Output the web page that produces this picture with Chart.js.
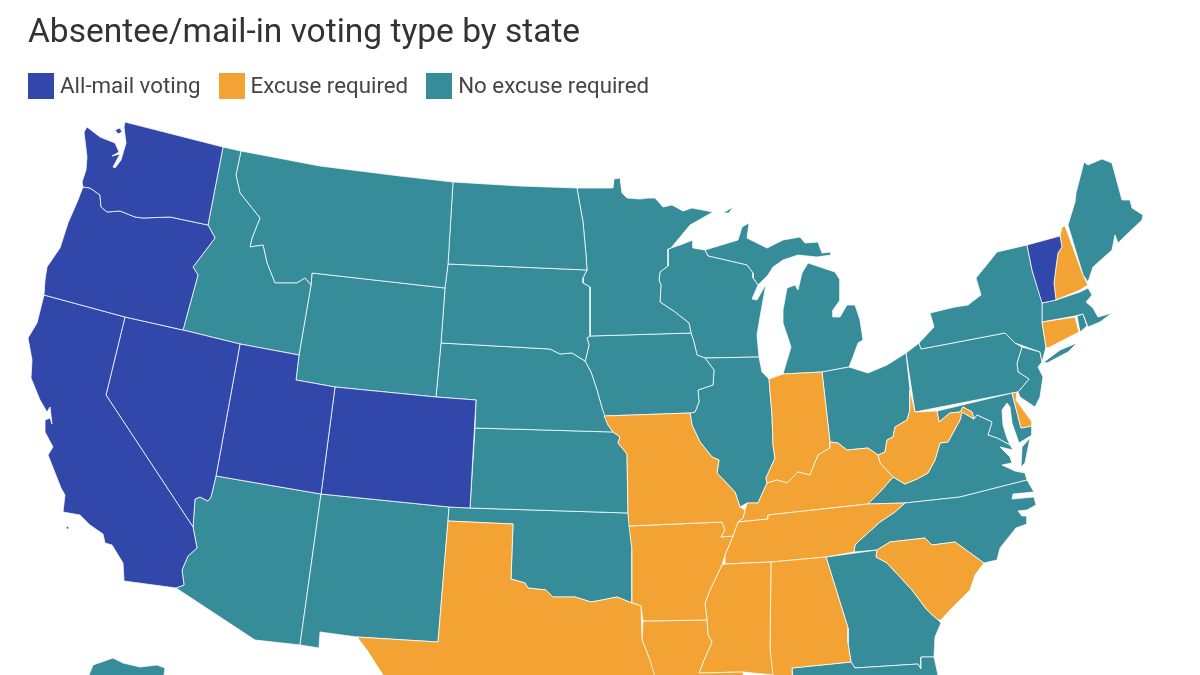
<!DOCTYPE html>
<html lang="en">

<head>
    <meta charset="UTF-8">
    <title>Absentee/mail-in voting type by state</title>
    <script src="https://cdn.jsdelivr.net/npm/chart.js@4"></script>
    <style>
        html,
        body {
            margin: 0;
            width: 1200px;
            height: 675px;
            background: #fff;
            overflow: hidden;
            font-family: Roboto, sans-serif;
        }

        #wrap {
            position: relative;
            width: 1200px;
            height: 675px;
        }

        #legend {
            position: absolute;
            left: 28px;
            top: 73px;
            display: flex;
            color: #444;
            font-size: 22.3px;
            line-height: 25px;
        }

        #legend span.item {
            display: flex;
            margin-right: 18px;
        }

        #legend i {
            width: 26px;
            height: 26px;
            margin-right: 6px;
        }
    </style>
</head>

<body>
    <div id="wrap">
        <canvas id="canvas" width="1200" height="675"></canvas>
        <div id="legend"></div>
    </div>

    <script>
        // outlines are in map units, y runs downward
        const Washington = [[125, 122], [223, 147], [208, 225], [170, 217], [143, 218], [135, 217], [120, 211], [107, 212], [101, 207], [100, 195], [90, 188], [83, 187], [82, 182], [86, 170], [87, 157], [84, 132], [87, 127], [100, 137], [115, 143], [119, 152], [112, 156], [120, 154], [113, 167], [115, 168], [121, 160], [126, 143], [124, 127]];
        const SanJuanIslands = [[115, 130], [120, 128], [122, 132], [118, 134]];
        const Oregon = [[83, 187], [90, 188], [100, 195], [101, 207], [107, 212], [120, 211], [135, 217], [143, 218], [170, 217], [208, 225], [215, 238], [193, 267], [198, 275], [183, 330], [125, 317], [44, 295], [45, 280], [47, 267], [60, 248], [68, 223], [78, 200]];
        const California = [[44, 295], [125, 317], [106, 395], [193, 527], [197, 548], [188, 556], [182, 570], [184, 585], [176, 588], [124, 581], [123, 563], [112, 545], [105, 543], [103, 534], [90, 525], [80, 515], [63, 512], [65, 495], [61, 488], [48, 455], [53, 447], [45, 432], [45, 420], [50, 418], [52, 424], [50, 407], [47, 412], [40, 400], [31, 378], [32, 360], [28, 338], [37, 323]];
        const SantaCatalina = [[66, 527], [69, 526], [69, 529], [67, 529]];
        const Nevada = [[125, 317], [183, 330], [240, 344], [216, 476], [211, 497], [208, 501], [200, 497], [195, 499], [193, 527], [106, 395]];
        const Utah = [[240, 344], [299, 355], [296, 380], [335, 387], [321, 494], [216, 476]];
        const Colorado = [[335, 387], [436, 397], [476, 400], [470, 508], [449, 507], [321, 494]];
        const Idaho = [[223, 147], [241, 151], [236, 175], [240, 193], [260, 218], [252, 238], [250, 247], [263, 245], [267, 263], [275, 283], [297, 283], [305, 278], [311, 285], [299, 355], [240, 344], [183, 330], [198, 275], [193, 267], [215, 238], [208, 225]];
        const Montana = [[241, 151], [320, 166], [400, 176], [453, 182], [448, 264], [445, 288], [312, 273], [311, 285], [305, 278], [297, 283], [275, 283], [267, 263], [263, 245], [250, 247], [252, 238], [260, 218], [240, 193], [236, 175]];
        const Wyoming = [[312, 273], [445, 288], [441, 343], [436, 397], [335, 387], [296, 380], [299, 355], [311, 285]];
        const NorthDakota = [[453, 182], [520, 186], [577, 188], [579, 200], [583, 222], [586, 255], [587, 270], [448, 264]];
        const SouthDakota = [[448, 264], [587, 270], [583, 278], [583, 283], [590, 287], [590, 336], [587, 338], [589, 345], [586, 358], [585, 361], [572, 353], [560, 354], [550, 349], [441, 343], [445, 288]];
        const Nebraska = [[441, 343], [550, 349], [560, 354], [572, 353], [585, 361], [591, 372], [597, 390], [602, 408], [608, 425], [613, 432], [475, 428], [476, 400], [436, 397]];
        const Kansas = [[475, 428], [613, 432], [620, 437], [618, 443], [627, 454], [628, 513], [470, 508]];
        const Oklahoma = [[449, 507], [470, 508], [628, 513], [630, 527], [632, 550], [632, 603], [617, 597], [602, 600], [591, 602], [575, 597], [560, 597], [553, 597], [546, 590], [528, 588], [525, 583], [511, 579], [513, 524], [448, 521]];
        const Texas = [[448, 521], [513, 524], [511, 579], [525, 583], [528, 588], [546, 590], [553, 597], [560, 597], [575, 597], [591, 602], [602, 600], [617, 597], [632, 603], [641, 606], [642, 640], [650, 660], [656, 680], [660, 720], [400, 720], [383, 675], [367, 650], [357, 637], [438, 642]];
        const NewMexico = [[321, 494], [449, 507], [448, 521], [438, 642], [357, 637], [320, 632], [319, 648], [300, 645]];
        const Arizona = [[216, 476], [321, 494], [300, 645], [255, 640], [176, 588], [184, 585], [182, 570], [188, 556], [197, 548], [193, 527], [195, 499], [200, 497], [208, 501], [211, 497]];
        const Alaska = [[89, 675], [93, 665], [113, 658], [123, 663], [140, 667], [157, 665], [165, 668], [164, 675], [164, 700], [89, 700]];
        const Minnesota = [[577, 188], [613, 188], [614, 179], [620, 178], [622, 193], [627, 198], [640, 199], [648, 198], [655, 198], [663, 207], [672, 205], [683, 211], [692, 208], [713, 212], [690, 225], [671, 248], [668, 249], [668, 266], [660, 272], [659, 280], [661, 285], [660, 302], [675, 312], [689, 323], [691, 333], [590, 336], [590, 287], [583, 283], [583, 278], [587, 270], [586, 255], [583, 222], [579, 200]];
        const Iowa = [[587, 338], [590, 336], [691, 333], [694, 342], [697, 355], [705, 358], [714, 370], [713, 385], [698, 390], [699, 402], [695, 412], [690, 413], [604, 416], [602, 408], [597, 390], [591, 372], [585, 361], [586, 358], [589, 345]];
        const Missouri = [[604, 416], [690, 413], [692, 425], [700, 442], [712, 457], [719, 460], [717, 473], [735, 492], [740, 507], [745, 510], [743, 518], [738, 522], [733, 536], [721, 537], [725, 530], [722, 522], [629, 526], [628, 513], [627, 454], [618, 443], [620, 437], [613, 432], [608, 425]];
        const Arkansas = [[629, 526], [722, 522], [725, 530], [721, 537], [733, 536], [725, 555], [722, 565], [710, 590], [705, 603], [707, 620], [643, 621], [641, 606], [632, 603], [632, 550]];
        const Louisiana = [[643, 621], [707, 620], [708, 635], [712, 642], [704, 660], [699, 673], [743, 672], [745, 700], [656, 700], [650, 660], [642, 640]];
        const Mississippi = [[725, 564], [771, 562], [770, 648], [773, 675], [743, 672], [699, 673], [704, 660], [712, 642], [708, 635], [707, 620], [705, 603], [710, 590], [722, 565]];
        const Alabama = [[771, 562], [826, 557], [848, 628], [848, 643], [851, 662], [792, 668], [793, 700], [773, 700], [770, 648]];
        const Florida = [[792, 668], [851, 662], [855, 668], [918, 664], [921, 669], [921, 657], [934, 657], [938, 675], [945, 700], [795, 700]];
        const Georgia = [[826, 557], [877, 550], [876, 557], [887, 563], [912, 590], [927, 610], [938, 620], [941, 623], [935, 637], [934, 657], [921, 657], [921, 669], [918, 664], [855, 668], [851, 662], [848, 643], [848, 628]];
        const SouthCarolina = [[877, 550], [890, 542], [925, 538], [932, 545], [955, 542], [984, 563], [975, 575], [970, 590], [950, 610], [941, 620], [938, 620], [927, 610], [912, 590], [887, 563], [876, 557]];
        const NorthCarolina = [[854, 552], [855, 545], [860, 540], [880, 522], [895, 512], [905, 503], [960, 497], [1027, 480], [1034, 492], [1013, 494], [1012, 499], [1034, 497], [1036, 505], [1027, 510], [1018, 511], [1022, 516], [1027, 516], [1027, 524], [1016, 528], [1000, 548], [997, 560], [984, 563], [955, 542], [932, 545], [925, 538], [890, 542], [877, 550]];
        const Tennessee = [[738, 522], [768, 519], [768, 515], [868, 504], [905, 503], [895, 512], [880, 522], [860, 540], [855, 545], [854, 552], [826, 557], [771, 562], [725, 564], [725, 555], [733, 536]];
        const Kentucky = [[745, 510], [747, 503], [758, 503], [767, 483], [777, 480], [787, 483], [798, 472], [810, 475], [818, 455], [830, 448], [830, 442], [838, 443], [847, 450], [868, 448], [878, 455], [880, 463], [893, 477], [880, 492], [868, 504], [768, 515], [768, 519], [738, 522], [743, 518]];
        const Virginia = [[868, 504], [880, 492], [893, 477], [905, 484], [917, 479], [928, 473], [935, 460], [940, 443], [948, 442], [960, 420], [962, 412], [974, 419], [977, 415], [992, 422], [988, 435], [997, 438], [1010, 445], [1013, 450], [1000, 447], [1010, 457], [1012, 463], [1002, 465], [1015, 471], [1025, 473], [1027, 480], [960, 497], [905, 503]];
        const VirginiaShore = [[1030, 438], [1025, 463], [1021, 467], [1022, 447]];
        const WestVirginia = [[910, 390], [915, 412], [937, 411], [939, 422], [950, 413], [960, 412], [963, 407], [972, 412], [974, 419], [962, 412], [960, 420], [948, 442], [940, 443], [935, 460], [928, 473], [917, 479], [905, 484], [893, 477], [880, 463], [878, 455], [885, 452], [887, 440], [893, 437], [895, 427], [907, 420], [910, 410]];
        const Ohio = [[822, 372], [849, 367], [868, 373], [887, 365], [906, 353], [910, 390], [910, 410], [907, 420], [895, 427], [893, 437], [887, 440], [885, 452], [878, 455], [868, 448], [847, 450], [838, 443], [830, 442]];
        const Indiana = [[769, 379], [783, 374], [822, 372], [830, 442], [830, 448], [818, 455], [810, 475], [798, 472], [787, 483], [777, 480], [767, 483], [766, 478], [775, 458], [773, 445], [772, 415]];
        const Illinois = [[705, 358], [759, 357], [762, 372], [769, 379], [772, 415], [773, 445], [775, 458], [766, 478], [767, 483], [758, 503], [747, 503], [740, 507], [735, 492], [717, 473], [719, 460], [712, 457], [700, 442], [692, 425], [690, 413], [695, 412], [699, 402], [698, 390], [713, 385], [714, 370]];
        const Wisconsin = [[668, 249], [680, 245], [693, 240], [693, 248], [705, 250], [708, 256], [747, 265], [753, 273], [753, 278], [758, 285], [752, 299], [757, 300], [766, 284], [760, 317], [757, 335], [759, 357], [705, 358], [697, 355], [694, 342], [691, 333], [689, 323], [675, 312], [660, 302], [661, 285], [659, 280], [660, 272], [668, 266]];
        const MichiganUpper = [[705, 250], [738, 240], [742, 227], [749, 223], [747, 238], [767, 248], [783, 240], [800, 237], [805, 243], [818, 242], [822, 253], [831, 252], [831, 255], [817, 257], [798, 255], [783, 260], [773, 267], [768, 275], [758, 285], [753, 278], [753, 273], [747, 265], [708, 256]];
        const IsleRoyale = [[723, 213], [733, 207], [729, 213]];
        const MichiganLower = [[808, 263], [835, 272], [840, 280], [840, 300], [833, 310], [833, 317], [840, 317], [847, 305], [855, 305], [860, 320], [863, 340], [858, 343], [853, 357], [849, 367], [822, 372], [783, 374], [791, 347], [783, 323], [783, 310], [787, 288], [795, 285], [798, 290], [802, 273]];
        const NewYork = [[1027, 245], [997, 252], [985, 267], [976, 278], [981, 295], [968, 305], [955, 307], [930, 313], [934, 327], [919, 343], [921, 349], [1005, 333], [1015, 343], [1040, 352], [1042, 362], [1046, 347], [1042, 322], [1042, 302], [1032, 270]];
        const LongIsland = [[1044, 362], [1060, 350], [1077, 343], [1068, 352], [1047, 363]];
        const Pennsylvania = [[906, 353], [919, 343], [921, 349], [1005, 333], [1015, 343], [1022, 347], [1017, 363], [1018, 372], [1029, 379], [1018, 392], [1012, 393], [915, 412]];
        const NewJersey = [[1022, 347], [1040, 352], [1042, 362], [1038, 367], [1043, 377], [1040, 397], [1035, 407], [1020, 397], [1018, 392], [1029, 379], [1018, 372], [1017, 363]];
        const Delaware = [[1012, 393], [1017, 392], [1016, 400], [1032, 422], [1032, 426], [1021, 428]];
        const Maryland = [[937, 411], [1012, 393], [1021, 428], [1032, 426], [1032, 435], [1019, 443], [1012, 423], [1010, 407], [1007, 403], [1002, 410], [1003, 425], [1007, 438], [1010, 445], [997, 438], [988, 435], [992, 422], [977, 415], [974, 419], [972, 412], [963, 407], [960, 412], [950, 413], [939, 422]];
        const Vermont = [[1027, 245], [1060, 236], [1062, 247], [1058, 253], [1056, 267], [1054, 283], [1056, 300], [1042, 303], [1032, 270]];
        const NewHampshire = [[1062, 227], [1065, 226], [1083, 275], [1088, 285], [1080, 290], [1056, 300], [1054, 283], [1056, 267], [1058, 253], [1062, 247], [1060, 236]];
        const Maine = [[1068, 225], [1075, 202], [1076, 193], [1084, 162], [1088, 165], [1102, 159], [1112, 163], [1122, 200], [1130, 200], [1132, 208], [1143, 215], [1142, 220], [1123, 238], [1118, 243], [1115, 235], [1112, 250], [1093, 267], [1088, 282], [1083, 275]];
        const Massachusetts = [[1042, 303], [1056, 300], [1080, 292], [1088, 288], [1092, 295], [1086, 302], [1093, 308], [1098, 317], [1112, 313], [1100, 322], [1088, 327], [1083, 314], [1075, 316], [1042, 322]];
        const RhodeIsland = [[1077, 316], [1083, 314], [1087, 326], [1080, 332]];
        const Connecticut = [[1042, 322], [1075, 317], [1079, 332], [1048, 348], [1046, 347]];

        const categories = ['All-mail voting', 'Excuse required', 'No excuse required'];
        const categoryColors = ['#3247aa', '#f2a333', '#378c9a'];

        const allMailStates = { Washington, SanJuanIslands, Oregon, California, SantaCatalina, Nevada, Utah, Colorado, Vermont };
        const excuseStates = { Texas, Missouri, Arkansas, Louisiana, Mississippi, Alabama, SouthCarolina, Tennessee, Kentucky, WestVirginia, Indiana, NewHampshire, Connecticut, Delaware };
        const noExcuseStates = { Idaho, Montana, Wyoming, NorthDakota, SouthDakota, Nebraska, Kansas, Oklahoma, NewMexico, Arizona, Alaska, Minnesota, Iowa, Florida, Georgia, NorthCarolina, Virginia, VirginiaShore, Ohio, Illinois, Wisconsin, MichiganUpper, IsleRoyale, MichiganLower, NewYork, LongIsland, Pennsylvania, NewJersey, Maryland, Maine, Massachusetts, RhodeIsland };

        const datasets = [];
        [allMailStates, excuseStates, noExcuseStates].forEach((group, i) => {
            for (const name in group) {
                const points = group[name].map(p => ({ x: p[0], y: p[1] }));
                points.push(points[0]);
                datasets.push({
                    label: name,
                    data: points,
                    showLine: true,
                    fill: 'shape',
                    backgroundColor: categoryColors[i],
                    borderColor: 'rgba(255,255,255,0.75)',
                    borderWidth: 1,
                    borderJoinStyle: 'round',
                    pointRadius: 0,
                    tension: 0
                });
            }
        });

        new Chart(document.querySelector('#canvas'), {
            type: 'scatter',
            data: { datasets },
            options: {
                responsive: false,
                animation: false,
                events: [],
                layout: { padding: { left: 28 } },
                scales: {
                    x: { type: 'linear', display: false, min: 28, max: 1200 },
                    y: { type: 'linear', display: false, min: 110, max: 675, reverse: true }
                },
                plugins: {
                    legend: { display: false },
                    tooltip: { enabled: false },
                    title: {
                        display: true,
                        text: 'Absentee/mail-in voting type by state',
                        align: 'start',
                        color: '#333',
                        font: { family: 'Roboto', size: 33.5, weight: 'normal', lineHeight: '40px' },
                        padding: { top: 14, bottom: 56 }
                    }
                }
            }
        });

        const legend = document.querySelector('#legend');
        categories.forEach((name, i) => {
            const item = document.createElement('span');
            item.className = 'item';
            item.innerHTML = `<i style="background:${categoryColors[i]}"></i>${name}`;
            legend.appendChild(item);
        });
    </script>
</body>

</html>
